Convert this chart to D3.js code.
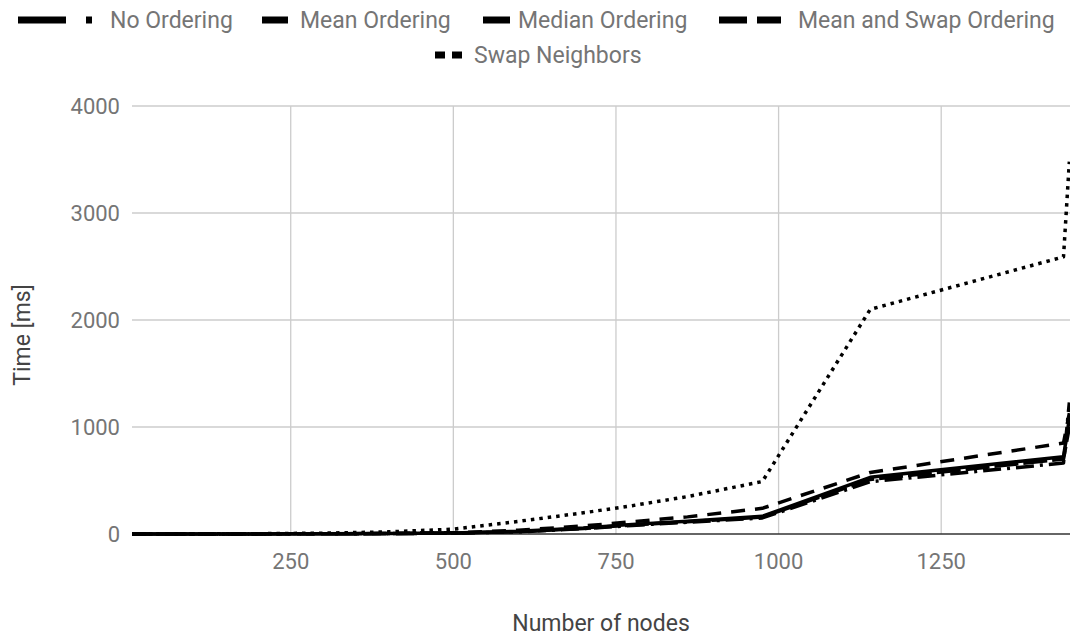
<!DOCTYPE html>
<html>
<head>
<meta charset="utf-8">
<script src="https://cdn.jsdelivr.net/npm/d3@7"></script>
<style>
  html, body { margin: 0; padding: 0; background: #fff; }
  svg { display: block; font-family: Roboto, "Noto Sans", sans-serif; }
</style>
</head>
<body>
<svg id="chart" width="1070" height="637"></svg>
<script>
// ---- data ----
const nodes = [6, 100, 200, 300, 400, 500, 600, 700, 775, 860, 975, 1141, 1438, 1447];
const seriesNames = ["No Ordering", "Mean Ordering", "Median Ordering", "Mean and Swap Ordering", "Swap Neighbors"];
const noOrdering      = [0, 0, 1, 2, 4, 8, 20, 50, 80, 110, 150, 489, 663, 1230];
const meanOrdering    = [0, 0, 1, 2, 4, 9, 25, 55, 90, 120, 165, 530, 722, 1080];
const medianOrdering  = [0, 0, 1, 2, 4, 8, 22, 52, 85, 115, 158, 510, 700, 1000];
const meanSwapOrdering= [0, 0, 1, 2, 5, 12, 35, 75, 115, 160, 240, 575, 850, 1130];
const swapNeighbors   = [0, 1, 3, 8, 20, 45, 118, 198, 265, 350, 490, 2100, 2590, 3480];
const xTicks = [250, 500, 750, 1000, 1250];
const yTicks = [0, 1000, 2000, 3000, 4000];

const seriesValues = [noOrdering, meanOrdering, medianOrdering, meanSwapOrdering, swapNeighbors];

// ---- styles ----
const dash = {
  "No Ordering": "18,6,3,6",
  "Mean Ordering": null,
  "Median Ordering": "24,5",
  "Mean and Swap Ordering": "14,10",
  "Swap Neighbors": "3.5,5"
};
const legendLayout = [
  {name: "No Ordering", tx: 110, ty: 20, icons: [[18, 66], [86, 92]]},
  {name: "Mean Ordering", tx: 300, ty: 20, icons: [[262, 288]]},
  {name: "Median Ordering", tx: 518, ty: 20, icons: [[483, 510]]},
  {name: "Mean and Swap Ordering", tx: 798, ty: 20, icons: [[719, 747], [757, 781]]},
  {name: "Swap Neighbors", tx: 474, ty: 55, icons: [[435, 445], [452, 462]]}
];

const svg = d3.select("#chart");
const x = d3.scaleLinear().domain([6, 1448]).range([132, 1070]);
const y = d3.scaleLinear().domain([0, 4000]).range([534, 106]);

// grid
const grid = svg.append("g");
grid.selectAll("line.h").data(yTicks.filter(d => d > 0)).join("line")
  .attr("x1", 132).attr("x2", 1070)
  .attr("y1", d => y(d)).attr("y2", d => y(d))
  .attr("stroke", "#cccccc").attr("stroke-width", 1.3);
grid.selectAll("line.v").data(xTicks).join("line")
  .attr("x1", d => x(d)).attr("x2", d => x(d))
  .attr("y1", 106).attr("y2", 534)
  .attr("stroke", "#cccccc").attr("stroke-width", 1.3);

// y tick labels
svg.append("g").selectAll("text").data(yTicks).join("text")
  .attr("x", 120).attr("y", d => y(d))
  .attr("text-anchor", "end").attr("dominant-baseline", "central")
  .attr("font-size", 22).attr("fill", "#757575")
  .text(d => d);

// x tick labels
svg.append("g").selectAll("text").data(xTicks).join("text")
  .attr("x", d => x(d)).attr("y", 561)
  .attr("text-anchor", "middle").attr("dominant-baseline", "central")
  .attr("font-size", 22).attr("fill", "#757575")
  .text(d => d);

// baseline
svg.append("line")
  .attr("x1", 132).attr("x2", 1070).attr("y1", y(0)).attr("y2", y(0))
  .attr("stroke", "#333333").attr("stroke-width", 1.5);

// axis titles
svg.append("text").attr("x", 601).attr("y", 623)
  .attr("text-anchor", "middle").attr("dominant-baseline", "central")
  .attr("font-size", 23).attr("fill", "#444444").text("Number of nodes");
svg.append("text")
  .attr("transform", `translate(22,335) rotate(-90)`)
  .attr("text-anchor", "middle").attr("dominant-baseline", "central")
  .attr("font-size", 23).attr("fill", "#444444").text("Time [ms]");

// lines
svg.append("defs").append("clipPath").attr("id", "plotclip")
  .append("rect").attr("x", 128).attr("y", 90).attr("width", 942).attr("height", 460);
const line = d3.line().x(d => x(d[0])).y(d => y(d[1]));
const lines = svg.append("g").attr("clip-path", "url(#plotclip)");
seriesNames.forEach((name, i) => {
  const pts = nodes.map((n, j) => [n, seriesValues[i][j]]);
  lines.append("path")
    .datum(pts)
    .attr("d", line)
    .attr("fill", "none")
    .attr("stroke", "#000")
    .attr("stroke-width", 3.5)
    .attr("stroke-linejoin", "round")
    .attr("stroke-dasharray", dash[name]);
});

// legend
const lg = svg.append("g");
legendLayout.forEach(item => {
  item.icons.forEach(([a, b]) => {
    lg.append("rect").attr("x", a).attr("y", item.ty - 3.5)
      .attr("width", b - a).attr("height", 7).attr("fill", "#000");
  });
  lg.append("text").attr("x", item.tx).attr("y", item.ty)
    .attr("dominant-baseline", "central")
    .attr("font-size", 23).attr("fill", "#757575")
    .text(item.name);
});
</script>
</body>
</html>
